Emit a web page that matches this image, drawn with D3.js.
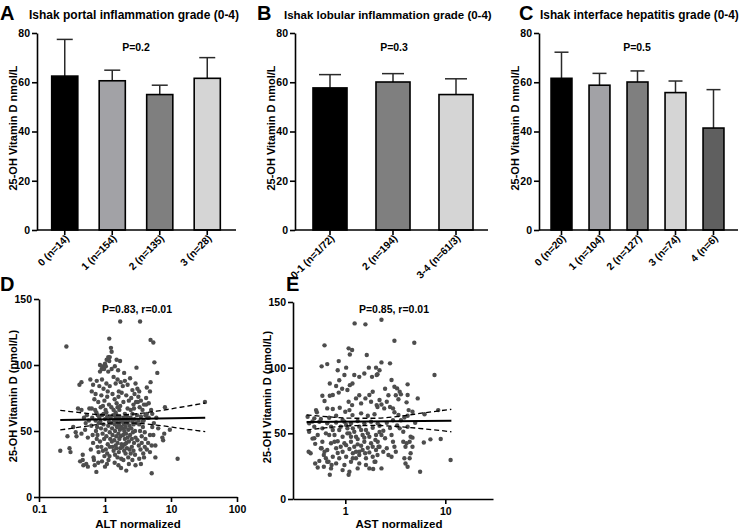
<!DOCTYPE html>
<html><head><meta charset="utf-8">
<script src="https://cdn.jsdelivr.net/npm/d3@7"></script>
<style>
body{margin:0;background:#fff}
svg text{font-family:"Liberation Sans",Arial,Helvetica,sans-serif;font-weight:bold;fill:#000}
</style>
</head><body>
<svg id="c" width="741" height="531"></svg>
<script>
// ---------- DATA ----------
const portalCats = ["0 (n=14)","1 (n=154)","2 (n=135)","3 (n=28)"];
const portalMean = [62.5, 60.6, 55.0, 61.6];
const portalErr  = [77.4, 64.9, 58.8, 70.0];

const lobularCats = ["0-1 (n=1/72)","2 (n=194)","3-4 (n=61/3)"];
const lobularMean = [57.7, 60.1, 55.0];
const lobularErr  = [63.1, 63.5, 61.4];

const interfaceCats = ["0 (n=20)","1 (n=104)","2 (n=127)","3 (n=74)","4 (n=6)"];
const interfaceMean = [61.6, 58.8, 60.1, 55.8, 41.4];
const interfaceErr  = [72.2, 63.6, 64.6, 60.5, 57.0];

const barTicks = [0, 20, 40, 60, 80];
const scatterYTicks = [0, 50, 100, 150];
const altTicks = [0.1, 1, 10, 100];
const astTicks = [1, 10];

// ALT normalized vs 25-OH vitamin D (nmol/L)
const altPoints = [
[0.21,35],[0.26,114],[0.29,37],[0.30,34],[0.27,46],[0.33,53],[0.36,49],[0.37,46],[0.39,67],[0.41,85],[0.44,87],[0.44,66],[0.44,48],[0.42,27],[0.46,32],[0.46,28],[0.47,24],[0.52,25],[0.55,23],[0.5,51],[0.51,56],[0.53,62],[0.48,60],[0.55,45],[0.57,58],
[0.58,67],[0.6,89],[0.63,80],[0.63,67],[0.66,85],[0.61,36],[0.62,54],[0.64,60],[0.65,47],[0.66,41],[0.67,30],[0.68,28],[0.7,24],[0.71,66],[0.72,58],[0.73,50],[0.74,19],[0.75,88],[0.75,44],[0.76,53],[0.77,38],[0.78,62],[0.79,72],[0.8,34],[0.8,56],[0.69,74],[0.72,78],[0.77,47],[0.74,64],[0.79,26],
[0.82,84],[0.84,95],[0.84,100],[0.89,97],[0.94,99],[0.97,97],[1.0,101],[1.03,99],[1.06,104],[1.12,106],[1.16,103],[1.18,106],[1.16,120],[1.23,113],[1.26,110],[1.12,95],[0.9,89],[0.95,82],[1.05,86],[1.1,80],[0.88,77],[0.98,73],[1.08,76],[1.15,70],[0.86,68],[0.93,69],[1.02,66],[1.18,84],
[0.82,60],[0.85,57],[0.87,52],[0.9,62],[0.92,48],[0.95,55],[0.97,44],[1.0,59],[1.02,51],[1.05,46],[1.08,61],[1.1,40],[1.12,54],[1.15,57],[1.18,49],[0.84,42],[0.88,38],[0.93,35],[0.98,31],[1.03,36],[1.08,33],[1.13,28],[1.18,38],[0.9,27],[1.0,23],[1.07,25],[1.17,31],[0.95,63],[1.05,64],[1.2,44],
[1.41,99],[1.5,104],[1.58,96],[1.69,103],[1.7,133],[1.26,97],[1.35,91],[1.45,86],[1.55,89],[1.62,80],[1.73,87],[1.79,79],[1.86,84],[1.3,78],[1.4,74],[1.5,71],[1.6,76],[1.7,69],[1.25,68],[1.35,66],[1.45,64],[1.65,66],[1.55,68],
[1.22,60],[1.25,56],[1.28,52],[1.3,47],[1.33,62],[1.36,58],[1.38,43],[1.4,55],[1.42,50],[1.45,60],[1.48,46],[1.5,57],[1.52,53],[1.55,41],[1.58,59],[1.6,48],[1.62,55],[1.65,44],[1.68,51],[1.7,58],[1.72,46],[1.75,53],[1.78,40],[1.3,38],[1.35,35],[1.42,32],[1.48,37],[1.55,30],[1.62,34],[1.7,37],[1.76,29],[1.4,26],[1.6,24],[1.75,22],[1.27,42],[1.5,62],[1.66,61],[1.45,39],
[1.95,94],[2.0,88],[2.2,85],[2.4,90],[2.6,81],[2.8,78],[2.9,86],[3.0,98],[2.1,77],[2.3,73],[2.5,75],[2.7,70],[1.9,72],[2.2,67],[2.45,66],[2.75,67],[2.95,72],[2.0,63],[2.6,63],
[1.82,57],[1.85,52],[1.88,47],[1.9,60],[1.93,55],[1.96,50],[2.0,44],[2.02,58],[2.05,53],[2.08,48],[2.1,41],[2.15,61],[2.18,56],[2.2,45],[2.25,51],[2.28,58],[2.3,42],[2.35,54],[2.4,47],[2.45,60],[2.5,52],[2.55,44],[2.6,57],[2.65,49],[2.7,55],[2.75,41],[2.8,59],[2.85,50],[2.9,45],[2.95,56],[1.85,38],[1.95,35],[2.05,33],[2.15,37],[2.25,30],[2.35,36],[2.45,33],[2.55,38],[2.7,35],[2.85,32],[1.9,28],[2.1,20],[2.3,25],[2.6,28],[2.9,24],[2.0,40],
[3.1,82],[3.2,76],[3.3,80],[3.4,133],[3.15,72],[3.35,68],[3.5,73],[3.7,66],[3.9,70],[4.2,75],[4.2,70],[3.05,62],[3.2,58],[3.3,55],[3.4,50],[3.5,61],[3.6,46],[3.75,53],[3.85,58],[4.0,49],[4.1,62],[4.3,63],[4.4,60],[3.1,43],[3.25,39],[3.45,36],[3.6,41],[3.8,33],[4.0,38],[3.3,29],[3.5,25],[3.9,30],[4.3,36],[3.7,57],[4.1,44],
[4.9,119],[5.4,117],[5.6,102],[6.2,94],[4.9,87],[4.3,83],[4.8,80],[4.6,71],[5.2,63],[4.6,60],[5.0,66],[4.8,47],[5.4,47],[4.5,41],[5.1,39],[5.8,39],[4.8,34],[5.8,30],[5.1,18],[6.4,52],[7.4,45],[7.9,48],[7.6,43],[9.6,51],[8.1,68],[12.6,29],[32.7,72],[5.5,56],[6.0,60],[5.2,53]
];
const altFit     = [[0.21,58.3],[33,60.1]];
const altCiUpper = [[0.21,65.6],[0.5,63.5],[0.84,62.3],[1.5,62.0],[2.7,62.8],[6,65],[14,68],[33,71.2]];
const altCiLower = [[0.21,50.8],[0.5,53.5],[0.84,55.2],[1.5,56.2],[2.7,56.0],[6,54.5],[14,52],[33,49.5]];

// AST normalized vs 25-OH vitamin D (nmol/L)
const astPoints = [
[1.24,133.7],[1.59,133],[2.3,136.5],[0.62,117],[1.08,114.7],[1.17,113.4],[1.11,110],[1.64,109.6],[3.1,120.5],[4.9,119],[0.58,101],[0.66,102.7],[0.84,98],[0.86,105],[1.02,100],[1.23,94.4],[1.38,93],[1.55,95.6],[1.72,100],[1.85,93],[2.06,94.4],[2.03,100],[2.3,104],[2.8,103.3],[2.2,98],[2.1,95],[2.9,90.6],[3.1,85.5],[3.3,84.2],[3.5,81.7],[3.6,79.7],[4.2,87.3],[4.2,79.2],[4.1,73.6],[4.3,67.7],[4.7,66.4],[4.2,63.4],[7.8,94.4],[8.5,67.7],[5.3,76.6],[6.2,64.5],
[0.70,88],[0.81,86],[0.87,90.4],[0.98,94.4],[0.59,78.6],[0.70,78.6],[0.75,79.2],[0.62,74.6],[0.86,81],[0.93,84],[1.05,83],[1.11,86.7],[1.18,88],[1.08,74],[1.17,71.5],[1.28,76.6],[1.38,79],[1.44,72.8],[1.59,76.6],[1.74,79.2],[1.88,81.7],[1.81,74],[2.06,71.5],[2.2,75.4],[2.5,84],[2.7,79],[3.2,79],[3.4,76],[2.6,74],[2.8,70],[3.0,69],[2.1,70],[2.3,72],[2.45,69],[3.1,66],[3.4,64],
[0.66,69],[0.75,68.5],[0.88,69.5],[1.0,66.4],[1.1,67.7],[0.51,67.7],[0.42,62.6],[0.49,61.4],[0.57,60.9],[0.69,61.9],[0.81,63.4],[0.94,60.1],[1.18,63.9],[1.44,65.2],[1.68,63.4],[1.96,64.5],
[3.8,51.2],[3.8,43.6],[4.0,39.8],[3.9,31],[4.0,27],[4.4,31],[4.2,24.6],[4.5,34.8],[3.5,53.8],[4.2,55],[2.3,48.7],[2.5,46.2],[2.9,48.7],[3.0,43.6],[3.1,39.8],[3.2,36],[2.2,39.8],[2.4,36],[2.6,38.6],[2.7,33.5],[2.1,33.5],[2.3,23.3],[2.0,28.4],[2.9,32.2],[4.7,39.8],[4.4,43.6],[4.1,42.4],[4.5,47.4],[4.7,46.7],[6.1,43],[7.1,45.4],[9.0,45.7],[5.6,20.8],[11.3,29.7],[2.6,58],[3.0,60],[3.3,56],[2.4,52],[2.8,54],[3.6,60],[1.9,22.8],[5.0,58],[3.9,62],
[0.49,55.1],[0.59,53.8],[0.72,55.1],[0.87,52.5],[1.02,56.3],[1.19,53.8],[1.38,55.1],[1.61,52.5],[1.88,54.3],[2.2,55.8],[0.435,51.2],[0.53,48.7],[0.64,50],[0.78,48.7],[0.94,47.4],[1.1,50],[1.28,47.4],[1.49,48.7],[1.74,47.4],[2.03,48.7],
[0.59,43.6],[0.72,42.4],[0.84,44],[0.98,42.4],[1.14,43.6],[1.33,41.6],[1.55,43.6],[1.81,42.4],[2.11,43.6],[0.49,46.2],[0.66,37.3],[0.81,38.6],[0.94,36],[1.1,38.1],[1.28,36],[1.49,37.3],[1.74,35.5],[2.03,37.3],[0.57,38.6],
[0.61,33.5],[0.75,32.2],[0.87,31],[1.02,32.2],[1.19,31],[1.38,33.5],[1.61,31],[1.88,32.2],[0.66,28.4],[0.81,27.1],[0.98,25.9],[1.14,28.4],[1.38,27.1],[0.61,24.6],[0.72,23.3],[0.94,22],[1.1,20.8],[1.33,23.3],[1.61,25.9],[1.74,23.3],
[1.05,53.8],[1.23,51.2],[1.44,52.5],[1.68,50],[1.14,47.4],[1.33,45.6],[1.55,46.7],[1.23,39.8],[1.44,40.6],[1.68,39],[1.02,41],[0.9,39.8],[1.38,36],[1.19,34.8],[1.58,34.8],[1.88,39.8],[1.28,31],[1.96,28.4],[1.05,50],[0.84,35],[0.78,43.6],[0.69,48.7],[0.75,52.5],[0.9,55],[2.15,39.8],[2.0,45],[2.2,51],
[0.435,57.6],[0.55,58.8],[0.66,57.6],[0.81,58.3],[0.98,58.8],[1.14,57.6],[1.33,59.4],[1.55,57.6],[1.81,58.8],[2.11,57.6],
[0.43,36],[0.45,34.8],[0.58,38.6],[0.62,36],[0.64,31],[0.68,28.4],[0.73,25.9],[0.5,27],[0.53,24],[0.55,29],[0.47,46],[0.5,42],[0.52,66],[0.47,59],[0.7,18.5],[1.08,18.5]
];
const astFit     = [[0.41,58.6],[11.5,59.6]];
const astCiUpper = [[0.41,64],[0.7,62.5],[1.2,61.5],[2,61.5],[3.5,63],[6,65.5],[11.5,68.3]];
const astCiLower = [[0.41,52.5],[0.7,54.5],[1.2,55.8],[2,56],[3.5,55],[6,53.5],[11.5,51.2]];

// ---------- DRAWING ----------
const svg = d3.select("#c");
const AX = 1.6;

function styleAxis(sel, fs){
  sel.selectAll("path,line").attr("stroke","#000").attr("stroke-width",AX);
  sel.selectAll("text").attr("font-size",fs).attr("fill","#000");
  return sel;
}

// shrink font so a text fits a given width
function fitText(t, base, width){
  t.attr("font-size", base);
  const w = t.node().getComputedTextLength();
  if (w > width) t.attr("font-size", base * width / w);
}

function barPanel(cfg){
  const g = svg.append("g");
  const y = d3.scaleLinear().domain([0,80]).range([230,33]);
  const x = d3.scaleBand().domain(cfg.cats).range(cfg.band)
    .paddingInner(cfg.pad).paddingOuter(cfg.pad/2);
  const bw = x.bandwidth();
  const cx = d => x(d) + bw/2;

  // error bars (upper only)
  g.selectAll("line.err").data(cfg.cats).join("line").attr("class","err")
    .attr("x1",cx).attr("x2",cx)
    .attr("y1",(d,i)=>y(cfg.mean[i])).attr("y2",(d,i)=>y(cfg.err[i]))
    .attr("stroke","#2a2a2a").attr("stroke-width",1.5);
  g.selectAll("line.cap").data(cfg.cats).join("line").attr("class","cap")
    .attr("x1",d=>cx(d)-cfg.cap).attr("x2",d=>cx(d)+cfg.cap)
    .attr("y1",(d,i)=>y(cfg.err[i])).attr("y2",(d,i)=>y(cfg.err[i]))
    .attr("stroke","#2a2a2a").attr("stroke-width",1.5);

  g.selectAll("rect").data(cfg.cats).join("rect")
    .attr("x",d=>x(d)).attr("width",bw)
    .attr("y",(d,i)=>y(cfg.mean[i]))
    .attr("height",(d,i)=>y(0)-y(cfg.mean[i]))
    .attr("fill",(d,i)=>cfg.fills[i])
    .attr("stroke","#000").attr("stroke-width",1.6);

  // y axis
  const ya = g.append("g").attr("transform",`translate(${cfg.axisX},0)`)
    .call(d3.axisLeft(y).tickValues(barTicks).tickSize(5).tickSizeOuter(0).tickPadding(2));
  styleAxis(ya,10.5);

  // x axis
  g.append("line").attr("x1",cfg.axisX).attr("x2",cfg.axisEnd)
    .attr("y1",y(0)).attr("y2",y(0)).attr("stroke","#000").attr("stroke-width",AX);
  const xa = g.append("g").attr("transform",`translate(0,${y(0)})`)
    .call(d3.axisBottom(x).tickSize(5).tickSizeOuter(0).tickFormat(""));
  xa.select(".domain").remove();
  styleAxis(xa,10);
  g.selectAll("text.xl").data(cfg.cats).join("text").attr("class","xl")
    .attr("transform",d=>`translate(${cx(d)+5},${y(0)+9}) rotate(-45)`)
    .attr("text-anchor","end").attr("font-size",10.3).text(d=>d);

  // y label
  g.append("text").attr("transform",`translate(${cfg.labelX},128) rotate(-90)`)
    .attr("text-anchor","middle").attr("font-size",11).text("25-OH Vitamin D nmol/L");
  // letter & title
  g.append("text").attr("x",cfg.letterX).attr("y",20).attr("font-size",20).text(cfg.letter);
  const tt = g.append("text").attr("x",cfg.titleX).attr("y",19).text(cfg.title);
  fitText(tt, 12, cfg.titleW);
  g.append("text").attr("x",cfg.pX).attr("y",51).attr("text-anchor","middle")
    .attr("font-size",10.5).text(cfg.p);
}

barPanel({cats:portalCats, mean:portalMean, err:portalErr,
  fills:["#000000","#a2a2a6","#7f7f7f","#d5d5d5"],
  band:[41,231], pad:0.45, axisX:37, axisEnd:236, cap:8,
  labelX:17, letterX:0, letter:"A", titleX:29, titleW:214,
  title:"Ishak portal inflammation grade (0-4)", pX:136, p:"P=0.2"});

barPanel({cats:lobularCats, mean:lobularMean, err:lobularErr,
  fills:["#000000","#7f7f7f","#d5d5d5"],
  band:[298.5,487.5], pad:0.46, axisX:295, axisEnd:488, cap:11,
  labelX:275, letterX:257, letter:"B", titleX:284, titleW:208,
  title:"Ishak lobular inflammation grade (0-4)", pX:394, p:"P=0.3"});

barPanel({cats:interfaceCats, mean:interfaceMean, err:interfaceErr,
  fills:["#000000","#a2a2a6","#7f7f7f","#d5d5d5","#5f5f5f"],
  band:[542.5,732.5], pad:0.45, axisX:539, axisEnd:738, cap:7,
  labelX:519, letterX:519, letter:"C", titleX:540, titleW:199,
  title:"Ishak interface hepatitis grade (0-4)", pX:637, p:"P=0.5"});

function scatterPanel(cfg){
  const g = svg.append("g");
  const x = d3.scaleLog().domain(cfg.xDomain).range(cfg.xRange);
  const y = d3.scaleLinear().domain([0,150]).range(cfg.yRange);

  g.append("g").selectAll("circle").data(cfg.points).join("circle")
    .attr("cx",d=>x(d[0])).attr("cy",d=>y(d[1])).attr("r",2.2).attr("fill","#4d4d4d");

  const straight = d3.line().x(d=>x(d[0])).y(d=>y(d[1]));
  const smooth = d3.line().x(d=>x(d[0])).y(d=>y(d[1])).curve(d3.curveMonotoneX);
  g.append("path").attr("d",straight(cfg.fit)).attr("fill","none")
    .attr("stroke","#000").attr("stroke-width",2);
  [cfg.ciU, cfg.ciL].forEach(ci=>{
    g.append("path").attr("d",smooth(ci)).attr("fill","none")
      .attr("stroke","#000").attr("stroke-width",1.3).attr("stroke-dasharray","5,3");
  });

  const ya = g.append("g").attr("transform",`translate(${cfg.xRange[0]},0)`)
    .call(d3.axisLeft(y).tickValues(scatterYTicks).tickSize(5).tickSizeOuter(0).tickPadding(2));
  styleAxis(ya,10.5);
  const xa = g.append("g").attr("transform",`translate(0,${cfg.yRange[0]})`)
    .call(d3.axisBottom(x).tickValues(cfg.xTicks).tickFormat(d=>String(d)).tickSize(5).tickSizeOuter(0).tickPadding(4));
  styleAxis(xa,10.5);

  g.append("text").attr("x",cfg.xLabelX).attr("y",528).attr("text-anchor","middle")
    .attr("font-size",11.5).text(cfg.xLabel);
  g.append("text").attr("transform",`translate(${cfg.labelX},${cfg.labelY}) rotate(-90)`)
    .attr("text-anchor","middle").attr("font-size",11).text("25-OH Vitamin D (nmol/L)");
  g.append("text").attr("x",cfg.letterX).attr("y",291).attr("font-size",20).text(cfg.letter);
  g.append("text").attr("x",cfg.pX).attr("y",313).attr("text-anchor","middle")
    .attr("font-size",10.5).text(cfg.p);
}

scatterPanel({points:altPoints, fit:altFit, ciU:altCiUpper, ciL:altCiLower,
  xDomain:[0.1,100], xRange:[39,237], yRange:[497,299], xTicks:altTicks,
  xLabel:"ALT normalized", xLabelX:138, labelX:17, labelY:396,
  letterX:0, letter:"D", pX:137, p:"P=0.83, r=0.01"});

scatterPanel({points:astPoints, fit:astFit, ciU:astCiUpper, ciL:astCiLower,
  xDomain:[0.3,30], xRange:[293,493], yRange:[499,302], xTicks:astTicks,
  xLabel:"AST normalized", xLabelX:399, labelX:271, labelY:397,
  letterX:286, letter:"E", pX:394, p:"P=0.85, r=0.01"});
</script>
</body></html>
